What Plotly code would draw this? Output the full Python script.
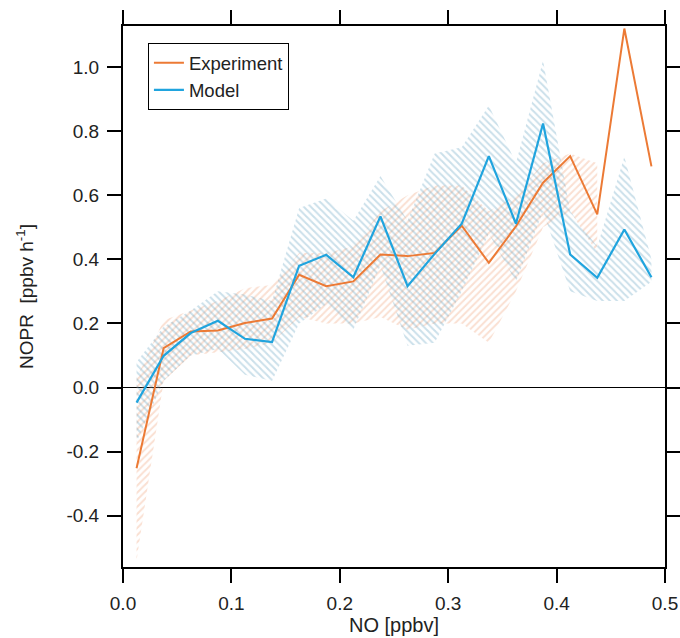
import plotly.graph_objects as go

no_ppbv = [0.0125, 0.0375, 0.0625, 0.0875, 0.1125, 0.1375, 0.1625, 0.1875, 0.2125, 0.2375,
           0.2625, 0.2875, 0.3125, 0.3375, 0.3625, 0.3875, 0.4125, 0.4375, 0.4625, 0.4875]

experiment = [-0.252, 0.123, 0.175, 0.178, 0.201, 0.215, 0.352, 0.316, 0.331, 0.415,
              0.41, 0.42, 0.505, 0.389, 0.503, 0.639, 0.722, 0.54, 1.12, 0.69]
experiment_upper = [0.03, 0.21, 0.24, 0.27, 0.31, 0.32, 0.42, 0.42, 0.44, 0.55,
                    0.60, 0.63, 0.63, 0.55, 0.60, 0.70, 0.73, 0.70, None, None]
experiment_lower = [-0.54, 0.02, 0.10, 0.11, 0.12, 0.14, 0.22, 0.20, 0.20, 0.22,
                    0.18, 0.20, 0.20, 0.14, 0.30, 0.50, 0.55, 0.42, None, None]

model = [-0.047, 0.099, 0.17, 0.208, 0.152, 0.142, 0.38, 0.414, 0.344, 0.534,
         0.316, 0.417, 0.511, 0.722, 0.511, 0.824, 0.415, 0.342, 0.493, 0.344]
model_upper = [0.08, 0.19, 0.24, 0.30, 0.29, 0.27, 0.56, 0.59, 0.52, 0.66,
               0.52, 0.73, 0.75, 0.88, 0.70, 1.02, 0.55, 0.44, 0.72, 0.40]
model_lower = [-0.17, 0.02, 0.10, 0.12, 0.04, 0.02, 0.20, 0.26, 0.18, 0.38,
               0.13, 0.14, 0.30, 0.48, 0.33, 0.55, 0.30, 0.27, 0.27, 0.33]

x_ticks = [0, 0.1, 0.2, 0.3, 0.4, 0.5]
x_tick_labels = ["0.0", "0.1", "0.2", "0.3", "0.4", "0.5"]
y_ticks = [-0.4, -0.2, 0, 0.2, 0.4, 0.6, 0.8, 1.0]
y_tick_labels = ["-0.4", "-0.2", "0.0", "0.2", "0.4", "0.6", "0.8", "1.0"]

ORANGE = "#EC7A35"
BLUE = "#20A4DE"
FONT = "Liberation Sans, Arial"
TXT = "#222222"

fig = go.Figure()

def band(x, lo, hi, fg, shape):
    xs = [a for a, b in zip(x, lo) if b is not None]
    los = [b for b in lo if b is not None]
    his = [b for b in hi if b is not None]
    fig.add_trace(go.Scatter(x=xs, y=los, mode="lines", line=dict(width=0),
                             showlegend=False, hoverinfo="skip"))
    fig.add_trace(go.Scatter(x=xs, y=his, mode="lines", line=dict(width=0),
                             fill="tonexty", fillcolor="rgba(0,0,0,0)",
                             fillpattern=dict(shape=shape, fgcolor=fg, bgcolor="rgba(0,0,0,0)",
                                              size=5, solidity=0.4),
                             showlegend=False, hoverinfo="skip"))

band(no_ppbv, experiment_lower, experiment_upper, "rgba(236,140,90,0.55)", "/")
band(no_ppbv, model_lower, model_upper, "rgba(80,150,185,0.6)", "\\")

fig.add_trace(go.Scatter(x=no_ppbv, y=experiment, mode="lines", name="Experiment",
                         line=dict(color=ORANGE, width=2)))
fig.add_trace(go.Scatter(x=no_ppbv, y=model, mode="lines", name="Model",
                         line=dict(color=BLUE, width=2.2)))

axis_common = dict(showline=True, linecolor="black", linewidth=2, mirror="allticks",
                   ticks="outside", ticklen=14, tickwidth=2, tickcolor="black",
                   showgrid=False, automargin=False, ticklabelstandoff=4,
                   tickfont=dict(family=FONT, size=19, color=TXT))

fig.update_xaxes(range=[0, 0.5], tickvals=x_ticks, ticktext=x_tick_labels,
                 title=dict(text="NO [ppbv]", font=dict(family=FONT, size=20, color=TXT),
                            standoff=4),
                 zeroline=False, **axis_common)
fig.update_yaxes(range=[-0.56, 1.128], tickvals=y_ticks, ticktext=y_tick_labels,
                 title=dict(text="NOPR  [ppbv h<sup>-1</sup>]",
                            font=dict(family=FONT, size=19, color=TXT),
                            standoff=28),
                 zeroline=True, zerolinecolor="black", zerolinewidth=1, **axis_common)

fig.update_layout(
    width=680, height=638,
    margin=dict(l=123, r=15, t=26, b=71),
    plot_bgcolor="white", paper_bgcolor="white",
    legend=dict(x=0.046, y=0.968, xanchor="left", yanchor="top",
                bordercolor="black", borderwidth=1, bgcolor="white",
                font=dict(family=FONT, size=18.5, color=TXT),
                traceorder="normal", tracegroupgap=0, itemwidth=30),
    showlegend=True,
)

fig.write_html("out.html", config={"displayModeBar": False},
               post_script="document.body.style.margin='0';document.body.style.overflow='hidden';")
